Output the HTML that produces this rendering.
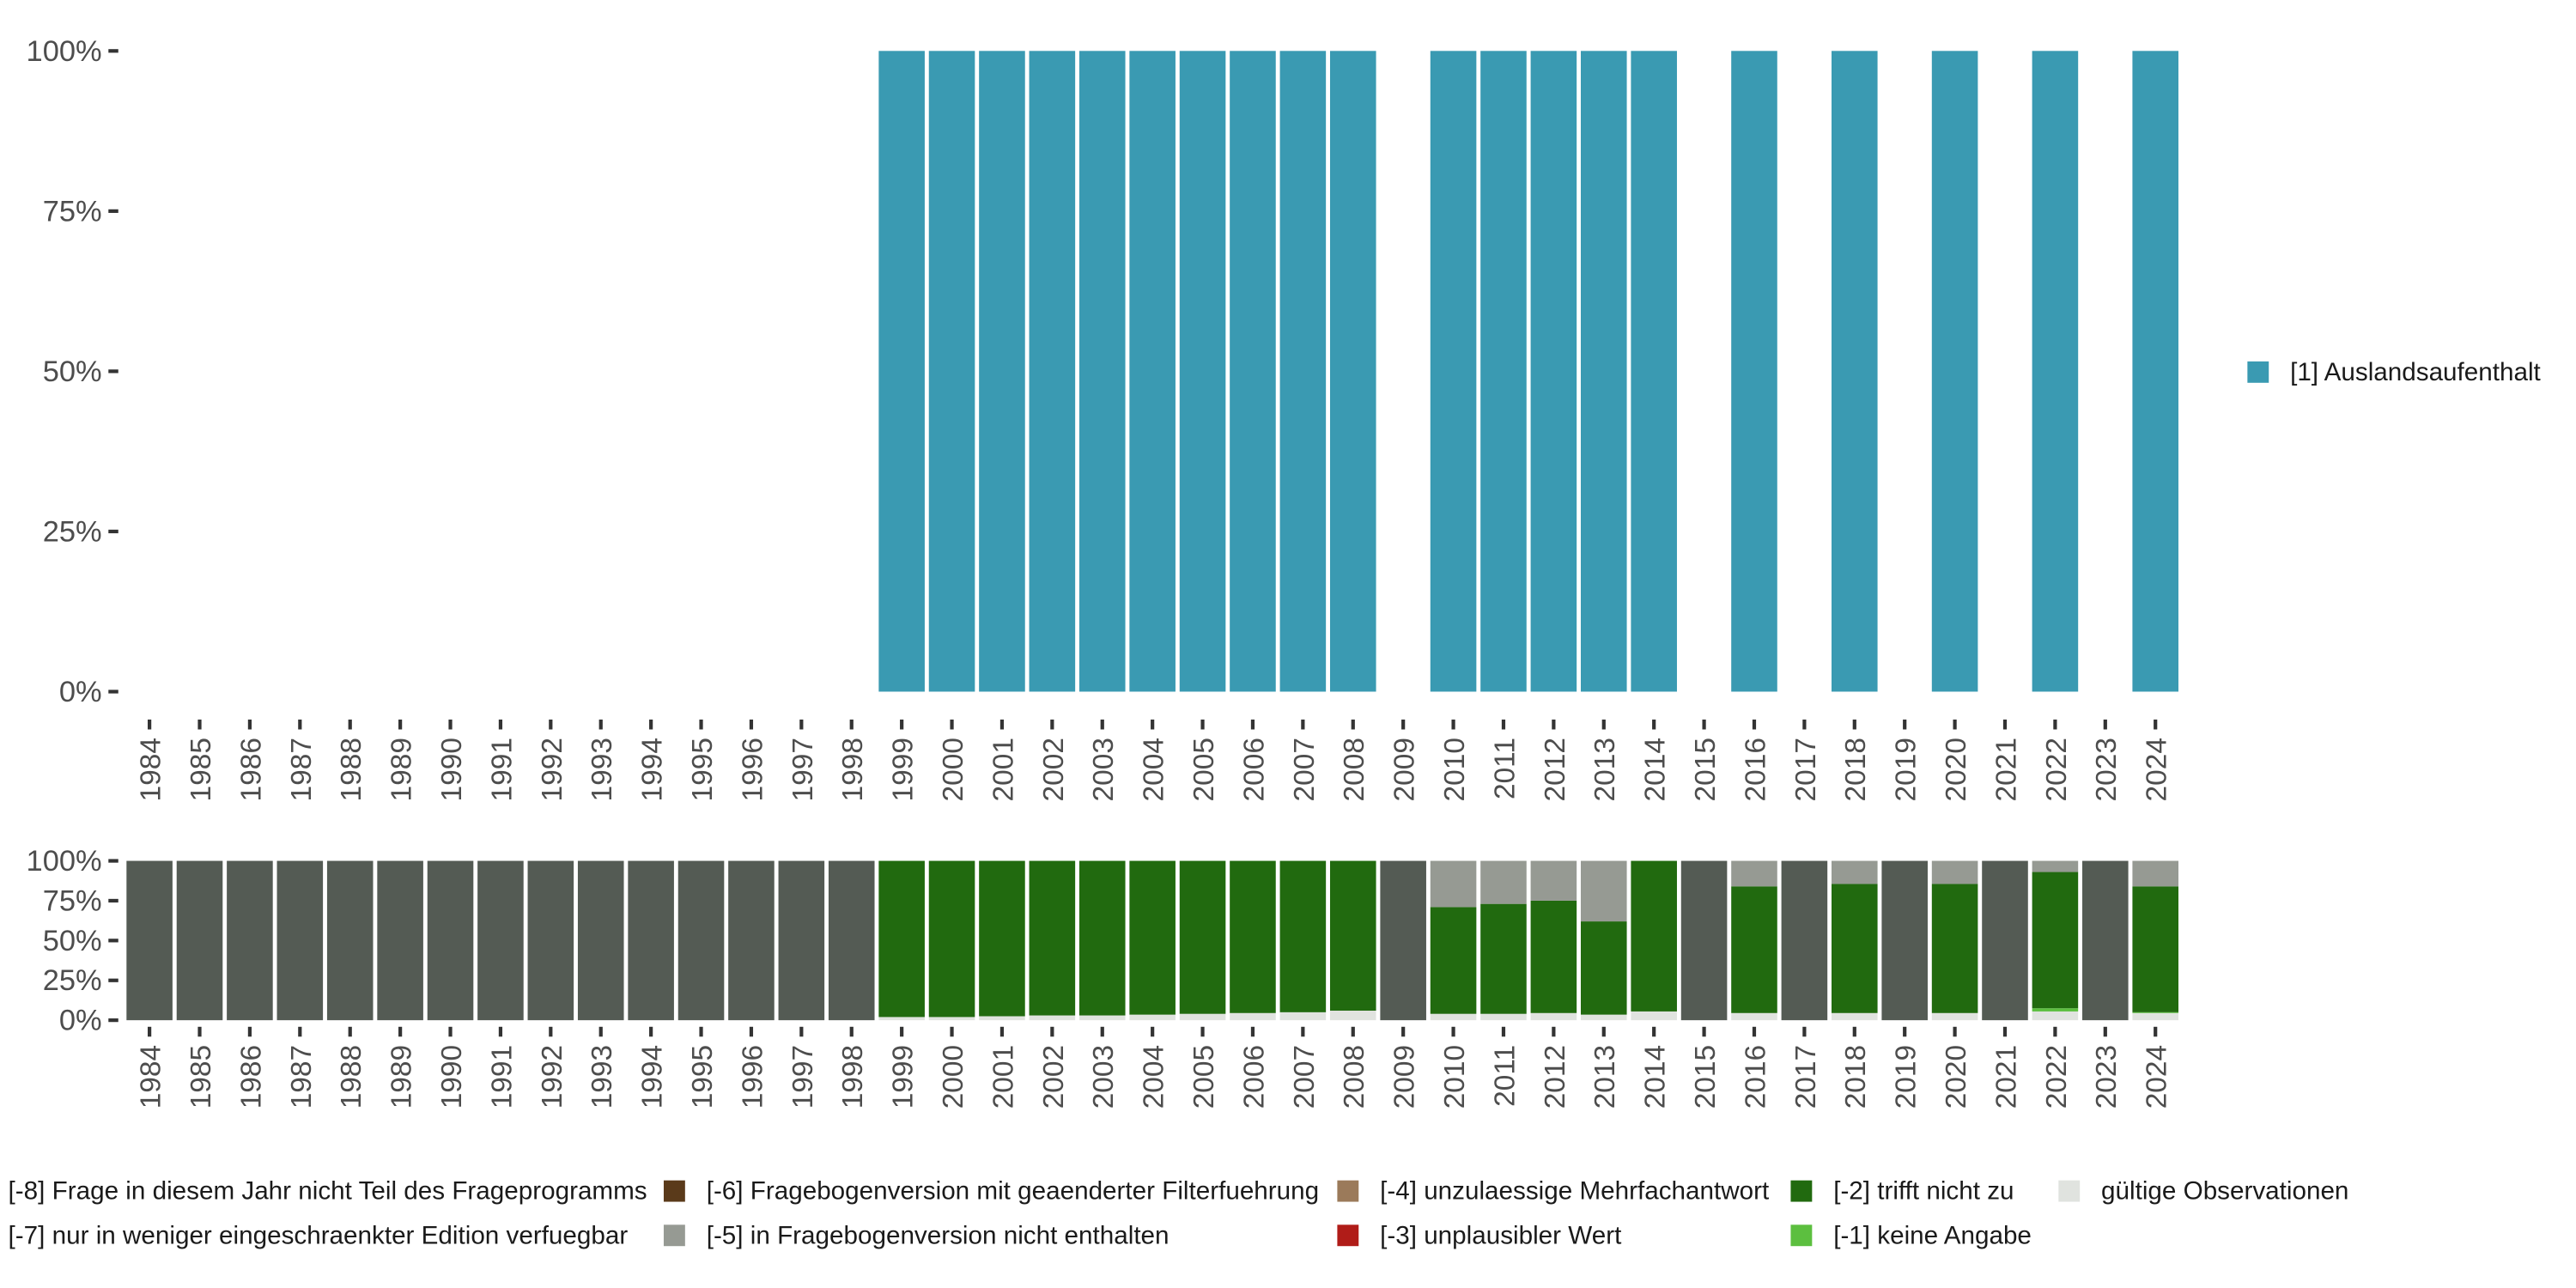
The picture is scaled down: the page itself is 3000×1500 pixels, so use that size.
<!DOCTYPE html>
<html><head><meta charset="utf-8"><style>
html,body{margin:0;padding:0;background:#fff;}
svg{display:block;font-family:"Liberation Sans","DejaVu Sans",sans-serif;}
</style></head><body>
<svg id="chart" width="3000" height="1500" viewBox="0 0 1568 784" xmlns="http://www.w3.org/2000/svg">
<g id="topChart"></g>
<g id="botChart"></g>
<g id="legR">
<rect x="1368" y="220" width="13" height="13" fill="#3a9ab2"/>
<text x="1394" y="231.5" font-size="15.5" fill="#1a1a1a">[1] Auslandsaufenthalt</text>
</g>
<g id="legB"></g>
</svg>
<script>
const years = [];
for (let y = 1984; y <= 2024; y++) years.push(y);
const topYears = [1999,2000,2001,2002,2003,2004,2005,2006,2007,2008,2010,2011,2012,2013,2014,2016,2018,2020,2022,2024];
const topValues = [100,100,100,100,100,100,100,100,100,100,100,100,100,100,100,100,100,100,100,100];
const yTicks = [0,25,50,75,100];
const yTickLabels = ["0%","25%","50%","75%","100%"];
const valid = [0,0,0,0,0,0,0,0,0,0,0,0,0,0,0, 2,2,2.5,3,3,3.5,4,4.5,5,6, 0, 4,4,4.5,3.5,5.5, 0,4.5,0,4.5,0,4.5,0,5.5,0,4.5];
const keineAngabe = [0,0,0,0,0,0,0,0,0,0,0,0,0,0,0, 0,0,0,0,0,0,0,0,0,0, 0, 0,0,0,0,0, 0,0,0,0,0,0,0,2,0,0.5];
const trifftNicht = [0,0,0,0,0,0,0,0,0,0,0,0,0,0,0, 98,98,97.5,97,97,96.5,96,95.5,95,94, 0, 67,69,70.5,58.5,94.5, 0,79.5,0,81,0,81,0,85.5,0,79];
const nichtEnthalten = [0,0,0,0,0,0,0,0,0,0,0,0,0,0,0, 0,0,0,0,0,0,0,0,0,0, 0, 29,27,25,38,0, 0,16,0,14.5,0,14.5,0,7,0,16];
const nichtTeil = [100,100,100,100,100,100,100,100,100,100,100,100,100,100,100, 0,0,0,0,0,0,0,0,0,0, 100, 0,0,0,0,0, 100,0,100,0,100,0,100,0,100,0];
const stackSeries = [["valid",valid,"#e0e3df"],["keine-angabe",keineAngabe,"#5cbf3f"],["trifft-nicht-zu",trifftNicht,"#216a0f"],["nicht-enthalten",nichtEnthalten,"#969a93"],["nicht-teil",nichtTeil,"#545b54"]];

const NS="http://www.w3.org/2000/svg";
function mk(tag, attrs, parent){const e=document.createElementNS(NS,tag);for(const k in attrs)e.setAttribute(k,attrs[k]);parent.appendChild(e);return e;}
const x0=91, step=(1312-91)/40, bw=28;
function xs(year){return x0+(year-1984)*step;}

function axes(g, yTop, yBot, tickY0, labY, fs, name){
  const ys=v=>yBot-(yBot-yTop)*v/100;
  yTicks.forEach((v,i)=>{
    const t=mk('line',{x1:66,x2:72,y1:ys(v),y2:ys(v),stroke:'#333','stroke-width':2.2},g);
    
    
    const l=mk('text',{x:62,y:ys(v)+6,'text-anchor':'end','font-size':fs,fill:'#4d4d4d'},g);
    l.textContent=yTickLabels[i];
    
    
  });
  years.forEach(yr=>{
    const x=xs(yr);
    const t=mk('line',{x1:x,x2:x,y1:tickY0,y2:tickY0+6,stroke:'#333','stroke-width':2.2},g);
    
    
    const l=mk('text',{x:0,y:0,'text-anchor':'end','font-size':17.5,fill:'#4d4d4d',transform:`translate(${x+6.5},${labY}) rotate(-90)`},g);
    l.textContent=yr;
    
    
  });
  return ys;
}
const gTop=document.getElementById('topChart');
const ysT=axes(gTop,31,421,438,449,18,'top');
topYears.forEach((yr,i)=>{
  const r=mk('rect',{x:xs(yr)-bw/2,y:ysT(topValues[i]),width:bw,height:ysT(0)-ysT(topValues[i]),fill:'#3a9ab2'},gTop);
  
  
});
const gBot=document.getElementById('botChart');
const ysB=axes(gBot,524,621,625,636,18,'bottom');
years.forEach((yr,i)=>{
  let acc=0;
  stackSeries.forEach(s=>{
    const v=s[1][i];
    if(v>0){
      const r=mk('rect',{x:xs(yr)-bw/2,y:ysB(acc+v),width:bw,height:ysB(acc)-ysB(acc+v),fill:s[2]},gBot);
      
      
    }
    acc+=v;
  });
});
const legend=[
 [-30,725,"#545b54","[-8] Frage in diesem Jahr nicht Teil des Frageprogramms",5],
 [-30,752,"#545b54","[-7] nur in weniger eingeschraenkter Edition verfuegbar",5],
 [404,725,"#5a3a1a","[-6] Fragebogenversion mit geaenderter Filterfuehrung",430],
 [404,752,"#969a93","[-5] in Fragebogenversion nicht enthalten",430],
 [814,725,"#9b7a5a","[-4] unzulaessige Mehrfachantwort",840],
 [814,752,"#b01c18","[-3] unplausibler Wert",840],
 [1090,725,"#216a0f","[-2] trifft nicht zu",1116],
 [1090,752,"#5cbf3f","[-1] keine Angabe",1116],
 [1253,725,"#e0e3df","gültige Observationen",1279]
];
const lg=document.getElementById('legB');
legend.forEach(e=>{
  const r=mk('rect',{x:e[0],y:e[1]-6.5,width:13,height:13,fill:e[2]},lg);
  
  
  const t=mk('text',{x:e[4],y:e[1]+5,'font-size':15.5,fill:'#1a1a1a'},lg);
  t.textContent=e[3];
  
  
});
</script>
</body></html>
